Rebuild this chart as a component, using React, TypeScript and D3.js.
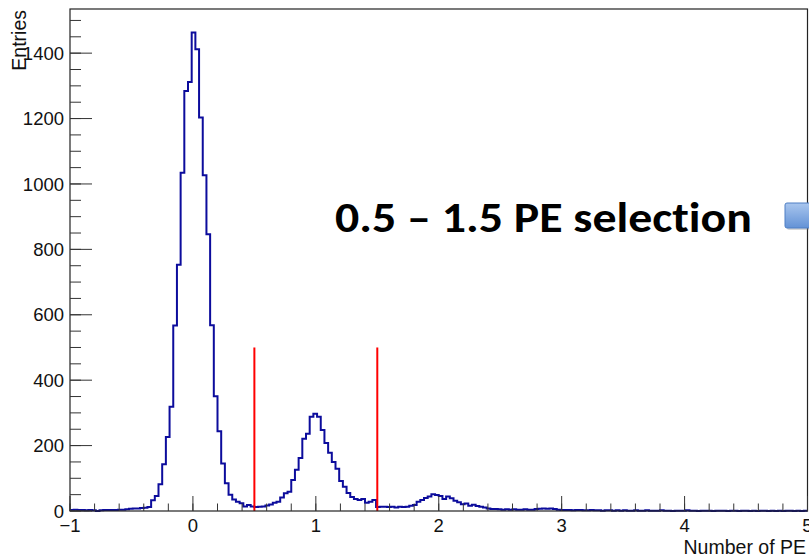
import React from "react";
import * as d3 from "d3";

const W = 809;
const H = 557;

// Histogram: 200 bins from -1 to 5 (width 0.03)
const xMin = -1;
const xMax = 5;
const counts = [
  3, 4, 3, 3, 2, 3, 2, 0, 2, 3,
  3, 3, 3, 4, 4, 5, 7, 8, 8, 9,
  10, 12, 33, 46, 82, 143, 226, 319, 567, 753,
  1034, 1284, 1312, 1463, 1412, 1203, 1027, 846, 568, 351,
  244, 145, 85, 50, 35, 28, 24, 14, 18, 14,
  12, 13, 14, 17, 20, 25, 28, 41, 54, 59,
  95, 126, 162, 221, 236, 288, 297, 288, 248, 208,
  178, 150, 129, 92, 74, 55, 43, 37, 34, 37,
  25, 28, 34, 12, 13, 13, 12, 13, 11, 13,
  12, 13, 16, 18, 28, 34, 40, 44, 51, 49,
  46, 37, 44, 39, 31, 27, 21, 23, 16, 19,
  15, 13, 11, 8, 6, 6, 5, 4, 5, 4,
  5, 4, 4, 5, 4, 4, 6, 7, 8, 7,
  8, 6, 4, 3, 3, 3, 2, 3, 3, 2,
  2, 3, 2, 2, 1, 2, 2, 1, 2, 1,
  2, 1, 1, 2, 1, 1, 2, 1, 1, 1,
  2, 1, 1, 0, 1, 1, 1, 2, 1, 1,
  0, 1, 1, 1, 0, 1, 1, 1, 0, 1,
  1, 0, 1, 1, 0, 1, 0, 1, 1, 0,
  1, 0, 1, 0, 1, 1, 0, 1, 0, 1,
];

const xTickValues = [-1, 0, 1, 2, 3, 4, 5];
const xTickLabels = ["\u22121", "0", "1", "2", "3", "4", "5"];
const yTickValues = [0, 200, 400, 600, 800, 1000, 1200, 1400];
const yTickLabels = ["0", "200", "400", "600", "800", "1000", "1200", "1400"];
const yMax = 1535;

const cutValues = [0.5, 1.5];
const cutHeight = 500;

const xTitle = "Number of PE";
const yTitle = "Entries";
const annotation = "0.5 \u2013 1.5 PE selection";

export default function App() {
  const left = 70;
  const right = 807.5;
  const top = 9;
  const bottom = 511;

  const x = d3.scaleLinear().domain([xMin, xMax]).range([left, right]);
  const y = d3.scaleLinear().domain([0, yMax]).range([bottom, top]);

  const binW = (xMax - xMin) / counts.length;
  const stepData: [number, number][] = [];
  counts.forEach((c, i) => {
    stepData.push([xMin + i * binW, c]);
  });
  stepData.push([xMax, counts[counts.length - 1]]);

  const line = d3
    .line<[number, number]>()
    .x((d) => x(d[0]))
    .y((d) => y(d[1]))
    .curve(d3.curveStepAfter);

  const pathD = line(stepData) || "";

  const xMinor = d3.range(-1, 5.0001, 0.2);
  const yMinor = d3.range(0, yMax, 50);

  const majXLen = 15;
  const minXLen = 7.5;
  const majYLen = 22;
  const minYLen = 11;

  const font = "'Liberation Sans', Arial, Helvetica, sans-serif";

  return (
    <div style={{ position: "fixed", left: 0, top: 0 }}>
      <svg width={W} height={H} style={{ display: "block", background: "#fff" }}>
        <defs>
          <linearGradient id="boxGrad" x1="0" y1="0" x2="0" y2="1">
            <stop offset="0%" stopColor="#a9c6ee" />
            <stop offset="100%" stopColor="#6392d6" />
          </linearGradient>
        </defs>
        <rect width={W} height={H} fill="#fff" />

        {/* histogram */}
        <path d={pathD} fill="none" stroke="#0c0c9c" strokeWidth={2} strokeLinejoin="miter" />

        {/* cut lines */}
        {cutValues.map((v) => (
          <line
            key={v}
            x1={x(v)}
            x2={x(v)}
            y1={y(0)}
            y2={y(cutHeight)}
            stroke="#ff0000"
            strokeWidth={2}
          />
        ))}

        {/* frame */}
        <rect
          x={left}
          y={top}
          width={right - left}
          height={bottom - top}
          fill="none"
          stroke="#222"
          strokeWidth={1.2}
        />

        {/* x ticks */}
        {xMinor.map((v, i) => (
          <line
            key={"xm" + i}
            x1={x(v)}
            x2={x(v)}
            y1={bottom}
            y2={bottom - minXLen}
            stroke="#333"
            strokeWidth={1}
          />
        ))}
        {xTickValues.map((v) => (
          <line
            key={"xM" + v}
            x1={x(v)}
            x2={x(v)}
            y1={bottom}
            y2={bottom - majXLen}
            stroke="#333"
            strokeWidth={1}
          />
        ))}
        {xTickValues.map((v, i) => (
          <text
            key={"xl" + v}
            x={x(v)}
            y={532}
            textAnchor="middle"
            fontFamily={font}
            fontSize={18.5}
            fill="#111"
          >
            {xTickLabels[i]}
          </text>
        ))}

        {/* y ticks */}
        {yMinor.map((v, i) => (
          <line
            key={"ym" + i}
            x1={left}
            x2={left + minYLen}
            y1={y(v)}
            y2={y(v)}
            stroke="#333"
            strokeWidth={1}
          />
        ))}
        {yTickValues.map((v) => (
          <line
            key={"yM" + v}
            x1={left}
            x2={left + majYLen}
            y1={y(v)}
            y2={y(v)}
            stroke="#333"
            strokeWidth={1}
          />
        ))}
        {yTickValues.map((v, i) => (
          <text
            key={"yl" + v}
            x={64}
            y={y(v) + 6.6}
            textAnchor="end"
            fontFamily={font}
            fontSize={18.5}
            fill="#111"
          >
            {yTickLabels[i]}
          </text>
        ))}

        {/* axis titles */}
        <text
          x={806}
          y={554}
          textAnchor="end"
          fontFamily={font}
          fontSize={19.5}
          fill="#111"
        >
          {xTitle}
        </text>
        <text
          transform={`translate(26,${top + 1}) rotate(-90)`}
          textAnchor="end"
          fontFamily={font}
          fontSize={19.5}
          fill="#111"
        >
          {yTitle}
        </text>

        {/* annotation */}
        <text
          x={335}
          y={232}
          fontFamily="Carlito, Lato, 'Open Sans', sans-serif"
          fontWeight="bold"
          fontSize={43}
          textLength={417}
          lengthAdjust="spacingAndGlyphs"
          fill="#000"
          style={{ fontVariantLigatures: "none", fontFeatureSettings: "'liga' 0, 'clig' 0" }}
        >
          {annotation}
        </text>

        {/* blue box (cut off at right) */}
        <rect x={787} y={205} width={30} height={25} fill="#8a8a8a" opacity={0.35} rx={2} />
        <rect
          x={785}
          y={203}
          width={30}
          height={25}
          rx={2}
          fill="url(#boxGrad)"
          stroke="#4f7fc4"
          strokeWidth={1}
        />
      </svg>
    </div>
  );
}
